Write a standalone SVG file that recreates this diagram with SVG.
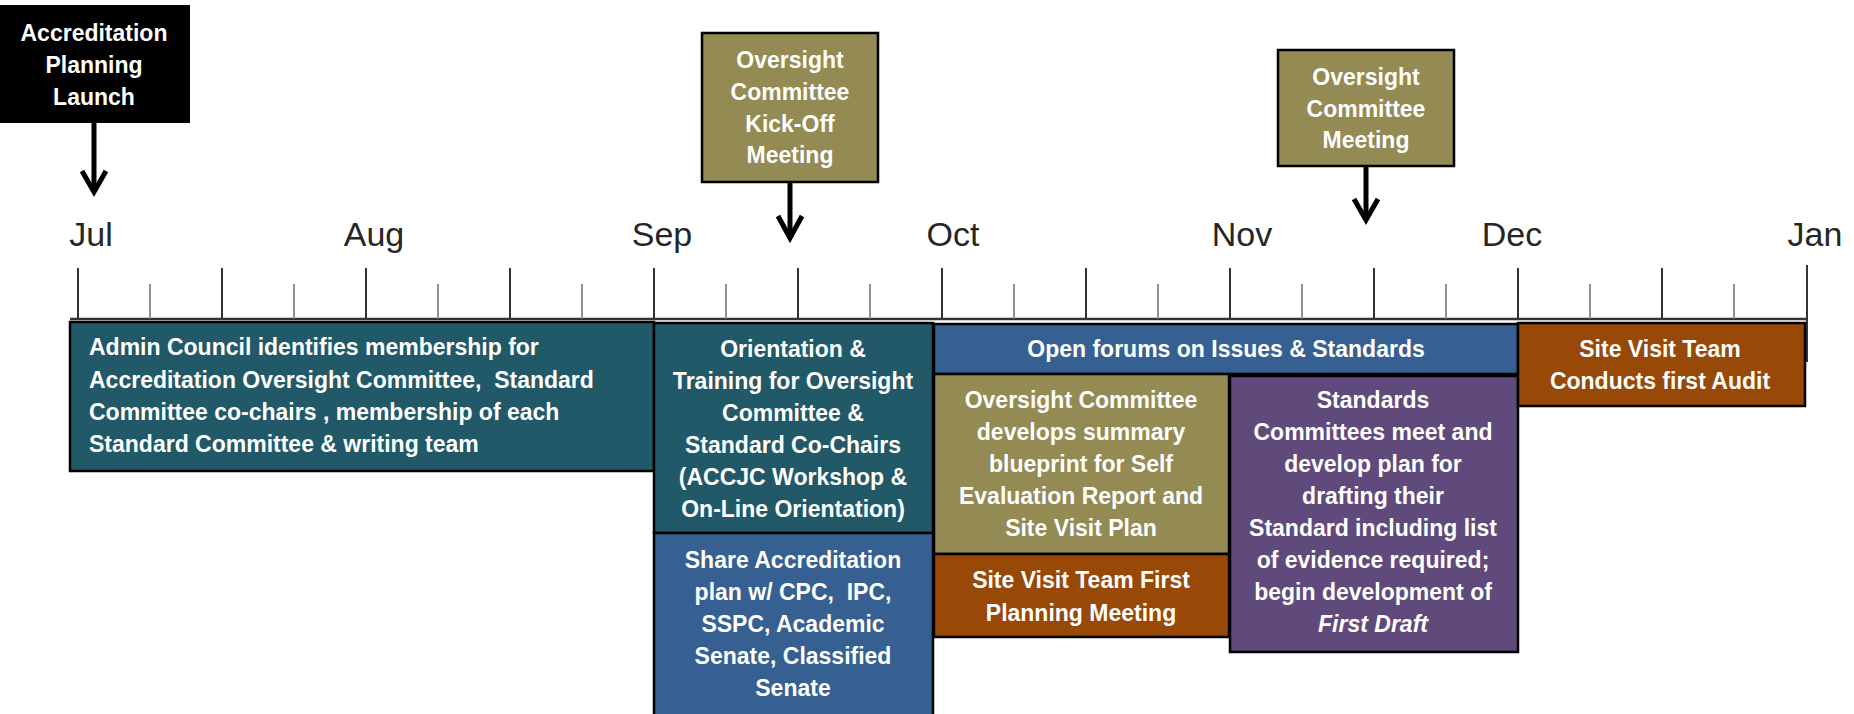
<svg xmlns="http://www.w3.org/2000/svg" width="1854" height="714" viewBox="0 0 1854 714">
<style>
.t{font-family:"Liberation Sans",Arial,sans-serif;font-weight:bold;font-size:23px;fill:#fff;text-anchor:middle;white-space:pre}
.l{text-anchor:start}
.m{font-family:"Liberation Sans",Arial,sans-serif;font-size:34px;fill:#262626;text-anchor:middle}
.box{stroke:#000;stroke-width:2.5}
.teal{fill:#215968}.blue{fill:#366092}.olive{fill:#948A54}.brown{fill:#984807}.purple{fill:#604A7B}
.maj{stroke:#333;stroke-width:2}
.min{stroke:#777;stroke-width:1.6}
.conn{fill:none;stroke:#000;stroke-width:5}
</style>
<rect width="1854" height="714" fill="#fff"/>
<g id="axis">
<text class="m" x="91" y="246">Jul</text>
<text class="m" x="374" y="246">Aug</text>
<text class="m" x="662" y="246">Sep</text>
<text class="m" x="953" y="246">Oct</text>
<text class="m" x="1242" y="246">Nov</text>
<text class="m" x="1512" y="246">Dec</text>
<text class="m" x="1815" y="246">Jan</text>
<line x1="70" y1="319" x2="1808" y2="319" stroke="#333" stroke-width="2.5"/>
<g class="maj">
<line x1="78" y1="268" x2="78" y2="319"/><line x1="222" y1="268" x2="222" y2="319"/><line x1="366" y1="268" x2="366" y2="319"/><line x1="510" y1="268" x2="510" y2="319"/><line x1="654" y1="268" x2="654" y2="319"/><line x1="798" y1="268" x2="798" y2="319"/><line x1="942" y1="268" x2="942" y2="319"/><line x1="1086" y1="268" x2="1086" y2="319"/><line x1="1230" y1="268" x2="1230" y2="319"/><line x1="1374" y1="268" x2="1374" y2="319"/><line x1="1518" y1="268" x2="1518" y2="319"/><line x1="1662" y1="268" x2="1662" y2="319"/><line x1="1807" y1="265" x2="1807" y2="362"/>
</g>
<g class="min">
<line x1="150" y1="284" x2="150" y2="319"/><line x1="294" y1="284" x2="294" y2="319"/><line x1="438" y1="284" x2="438" y2="319"/><line x1="582" y1="284" x2="582" y2="319"/><line x1="726" y1="284" x2="726" y2="319"/><line x1="870" y1="284" x2="870" y2="319"/><line x1="1014" y1="284" x2="1014" y2="319"/><line x1="1158" y1="284" x2="1158" y2="319"/><line x1="1302" y1="284" x2="1302" y2="319"/><line x1="1446" y1="284" x2="1446" y2="319"/><line x1="1590" y1="284" x2="1590" y2="319"/><line x1="1734" y1="284" x2="1734" y2="319"/>
</g>
</g>
<g id="launch">
<rect x="0" y="5" width="190" height="118" fill="#000"/>
<text class="t" x="94" y="41">Accreditation</text>
<text class="t" x="94" y="73">Planning</text>
<text class="t" x="94" y="105">Launch</text>
</g>
<g id="kickoff">
<rect class="box olive" x="702" y="33" width="176" height="149"/>
<text class="t" x="790" y="68">Oversight</text>
<text class="t" x="790" y="100">Committee</text>
<text class="t" x="790" y="132">Kick-Off</text>
<text class="t" x="790" y="163">Meeting</text>
</g>
<g id="ocmeeting">
<rect class="box olive" x="1278" y="50" width="176" height="116"/>
<text class="t" x="1366" y="85">Oversight</text>
<text class="t" x="1366" y="117">Committee</text>
<text class="t" x="1366" y="148">Meeting</text>
</g>
<g id="admin">
<rect class="box teal" x="70" y="322" width="584" height="149"/>
<text class="t l" x="89" y="355">Admin Council identifies membership for</text>
<text class="t l" x="89" y="388">Accreditation Oversight Committee,  Standard</text>
<text class="t l" x="89" y="420">Committee co-chairs , membership of each</text>
<text class="t l" x="89" y="452">Standard Committee &amp; writing team</text>
</g>
<g id="orientation">
<rect class="box teal" x="654" y="323" width="279" height="210"/>
<text class="t" x="793" y="357">Orientation &amp;</text>
<text class="t" x="793" y="389">Training for Oversight</text>
<text class="t" x="793" y="421">Committee &amp;</text>
<text class="t" x="793" y="453">Standard Co-Chairs</text>
<text class="t" x="793" y="485">(ACCJC Workshop &amp;</text>
<text class="t" x="793" y="517">On-Line Orientation)</text>
</g>
<g id="share">
<rect class="box blue" x="654" y="533" width="279" height="186"/>
<text class="t" x="793" y="568">Share Accreditation</text>
<text class="t" x="793" y="600">plan w/ CPC,  IPC,</text>
<text class="t" x="793" y="632">SSPC, Academic</text>
<text class="t" x="793" y="664">Senate, Classified</text>
<text class="t" x="793" y="696">Senate</text>
</g>
<g id="forums">
<rect class="box blue" x="934" y="324" width="584" height="50"/>
<text class="t" x="1226" y="357">Open forums on Issues &amp; Standards</text>
</g>
<g id="blueprint">
<rect class="box olive" x="934" y="374" width="295" height="180"/>
<text class="t" x="1081" y="408">Oversight Committee</text>
<text class="t" x="1081" y="440">develops summary</text>
<text class="t" x="1081" y="472">blueprint for Self</text>
<text class="t" x="1081" y="504">Evaluation Report and</text>
<text class="t" x="1081" y="536">Site Visit Plan</text>
</g>
<g id="sitevisit1">
<rect class="box brown" x="934" y="554" width="295" height="83"/>
<text class="t" x="1081" y="588">Site Visit Team First</text>
<text class="t" x="1081" y="621">Planning Meeting</text>
</g>
<g id="standards">
<rect class="box purple" x="1230" y="376" width="288" height="276"/>
<text class="t" x="1373" y="408">Standards</text>
<text class="t" x="1373" y="440">Committees meet and</text>
<text class="t" x="1373" y="472">develop plan for</text>
<text class="t" x="1373" y="504">drafting their</text>
<text class="t" x="1373" y="536">Standard including list</text>
<text class="t" x="1373" y="568">of evidence required;</text>
<text class="t" x="1373" y="600">begin development of</text>
<text class="t" x="1373" y="632" font-style="italic">First Draft</text>
</g>
<g id="audit">
<rect class="box brown" x="1518" y="323" width="287" height="83"/>
<text class="t" x="1660" y="357">Site Visit Team</text>
<text class="t" x="1660" y="389">Conducts first Audit</text>
</g>
<g id="connectors">
<path class="conn" d="M94,123 V190"/>
<path class="conn" d="M82,171 L94,192 L106,171"/>
<path class="conn" d="M790,182 V237"/>
<path class="conn" d="M778,216 L790,238 L802,216"/>
<path class="conn" d="M1366,166 V219"/>
<path class="conn" d="M1354,199 L1366,220 L1378,199"/>
</g>
</svg>
